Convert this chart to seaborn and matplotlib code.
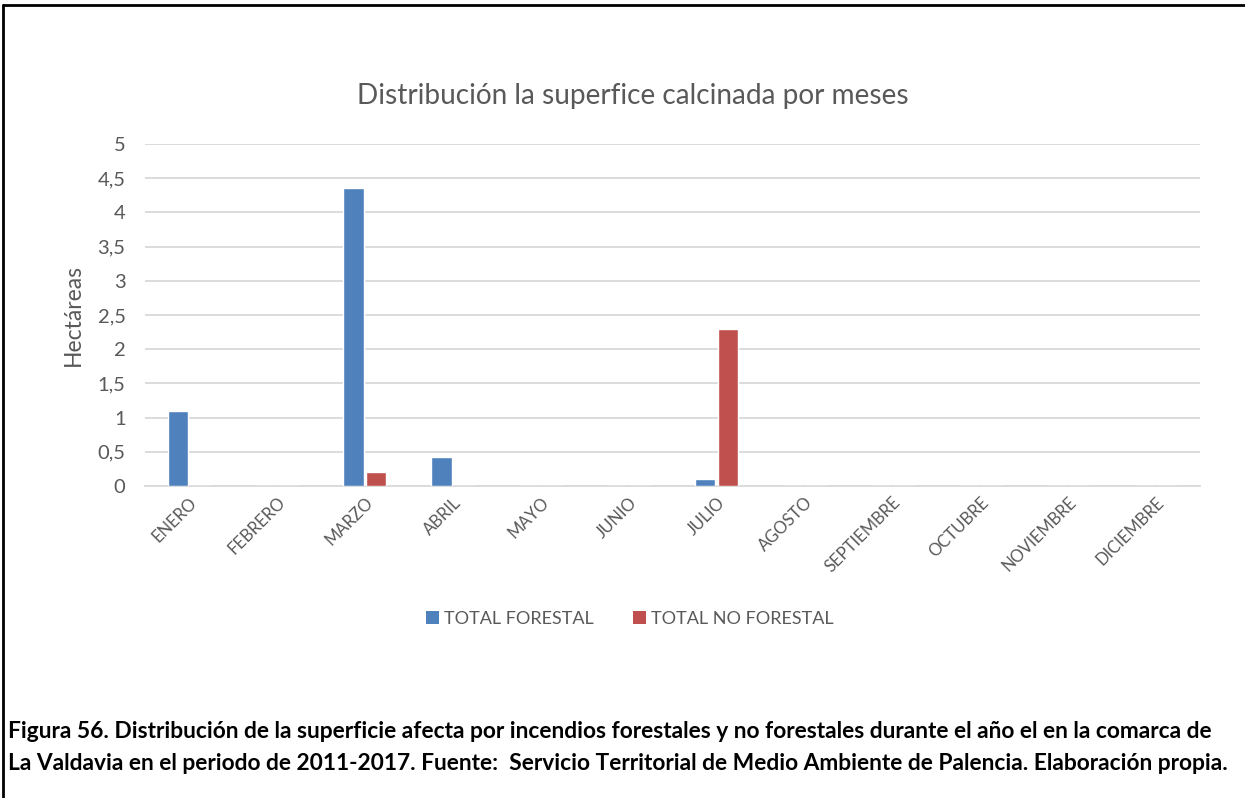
import matplotlib
matplotlib.use("Agg")
import matplotlib.pyplot as plt
import seaborn as sns
import pandas as pd
from matplotlib.lines import Line2D
from matplotlib.patches import Patch

months = ["ENERO", "FEBRERO", "MARZO", "ABRIL", "MAYO", "JUNIO", "JULIO",
          "AGOSTO", "SEPTIEMBRE", "OCTUBRE", "NOVIEMBRE", "DICIEMBRE"]
total_forestal = [1.1, 0, 4.36, 0.42, 0, 0, 0.1, 0, 0, 0, 0, 0]
total_no_forestal = [0, 0, 0.2, 0, 0, 0, 2.3, 0, 0, 0, 0, 0]
series_names = ["TOTAL FORESTAL", "TOTAL NO FORESTAL"]
y_ticks = [0, 0.5, 1, 1.5, 2, 2.5, 3, 3.5, 4, 4.5, 5]
y_tick_labels = ["0", "0,5", "1", "1,5", "2", "2,5", "3", "3,5", "4", "4,5", "5"]

title = "Distribución la superfice calcinada por meses"
y_label = "Hectáreas"
caption_lines = [
    "Figura 56. Distribución de la superficie afecta por incendios forestales y no forestales durante el año el en la comarca de",
    "La Valdavia en el periodo de 2011-2017. Fuente:  Servicio Territorial de Medio Ambiente de Palencia. Elaboración propia.",
]

df = pd.DataFrame({
    "mes": months * 2,
    "serie": [series_names[0]] * len(months) + [series_names[1]] * len(months),
    "ha": total_forestal + total_no_forestal,
})

sns.set_theme(style="white")
plt.rcParams["font.family"] = ["Lato", "DejaVu Sans"]

text_grey = "#595959"
colors = {series_names[0]: "#4F81BD", series_names[1]: "#C0504D"}

fig = plt.figure(figsize=(12.45, 7.98), dpi=100)
ax = fig.add_axes([145 / 1245, 1 - 486 / 798, 1055 / 1245, 342 / 798])

sns.barplot(data=df, x="mes", y="ha", hue="serie", order=months,
            hue_order=series_names, palette=colors, width=0.51, gap=0.1,
            ax=ax, legend=False, zorder=3, saturation=1)

ax.set_ylim(0, 5)
ax.set_xlim(-0.5, len(months) - 0.5)
ax.set_yticks(y_ticks)
ax.set_yticklabels(y_tick_labels, fontsize=14.5, color=text_grey)
ax.yaxis.grid(True, color="#D9D9D9", linewidth=1.3, zorder=0)
ax.set_axisbelow(True)
for s in ["left", "right", "top"]:
    ax.spines[s].set_visible(False)
ax.spines["bottom"].set_color("#D9D9D9")
ax.spines["bottom"].set_linewidth(1.3)
ax.tick_params(axis="y", length=0, pad=14)
ax.tick_params(axis="x", length=0, pad=6)
ax.set_xticks(range(len(months)))
ax.set_xticklabels(months, rotation=45, ha="right", rotation_mode="anchor",
                   fontsize=12, color=text_grey)
ax.set_xlabel("")
ax.set_ylabel(y_label, fontsize=16.5, color=text_grey, labelpad=10)

fig.text(633 / 1245, 1 - 96 / 798, title, ha="center", va="center",
         fontsize=20.2, color=text_grey)

handles = [Patch(facecolor=colors[n], edgecolor="none") for n in series_names]
fig.legend(handles, series_names, loc="center", bbox_to_anchor=(630 / 1245, 1 - 619 / 798),
           ncol=2, frameon=False, fontsize=13, labelcolor=text_grey,
           handlelength=0.7, handleheight=0.7, handletextpad=0.3, columnspacing=2.2)

for i, line in enumerate(caption_lines):
    fig.text(8 / 1245, 1 - (731 + 32 * i) / 798, line, ha="left", va="center",
             fontsize=16.4, fontweight="bold", color="black")

# outer frame: top and left edges
fig.add_artist(Line2D([3 / 1245, 3 / 1245], [0, 1 - 5 / 798], transform=fig.transFigure,
                      color="black", linewidth=2))
fig.add_artist(Line2D([3 / 1245, 1], [1 - 5 / 798, 1 - 5 / 798], transform=fig.transFigure,
                      color="black", linewidth=2))

fig.savefig("out.png", dpi=100)
